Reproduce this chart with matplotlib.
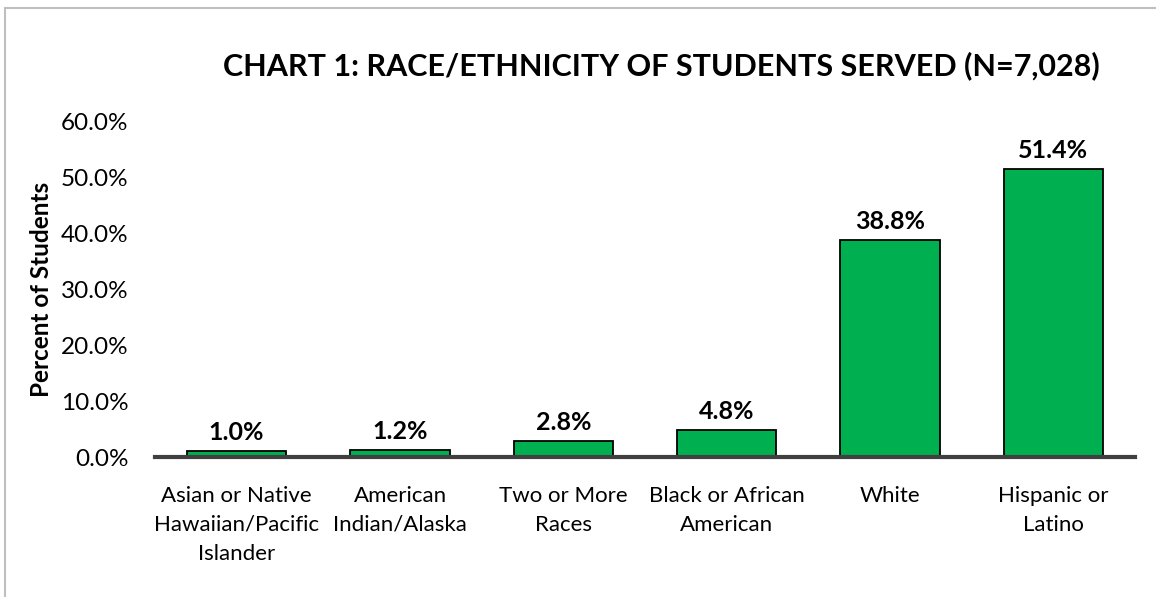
import matplotlib
matplotlib.use("Agg")
from matplotlib import pyplot as plt
from matplotlib.patches import Rectangle
import numpy as np

categories = ["Asian or Native\nHawaiian/Pacific\nIslander", "American\nIndian/Alaska",
              "Two or More\nRaces", "Black or African\nAmerican", "White", "Hispanic or\nLatino"]
values = [1.0, 1.2, 2.8, 4.8, 38.8, 51.4]
yticks = [0, 10, 20, 30, 40, 50, 60]

plt.rcParams['font.family'] = ['Lato', 'DejaVu Sans']

W, H = 1156, 597
fig = plt.figure(figsize=(W / 100, H / 100), dpi=100)

# chart frame (cut off on the right and bottom in the original)
fig.patches.append(Rectangle((5 / W, -0.1), 1.2, 1 - 8 / H + 0.1, transform=fig.transFigure,
                             fill=False, edgecolor="#bfbfbf", linewidth=1.5))

ax = fig.add_axes([155 / W, 1 - 457 / H, (1135 - 155) / W, (457 - 121) / H])
x = np.arange(len(categories))
ax.bar(x, values, width=0.61, color="#00B050", edgecolor="black", linewidth=1.3, zorder=2)
ax.set_xlim(-0.5, len(categories) - 0.5)
ax.set_ylim(0, 60)
ax.set_yticks(yticks)
ax.set_yticklabels([f"{v:.1f}%" for v in yticks], fontsize=17.5)
ax.set_xticks(x)
ax.set_xticklabels(categories, fontsize=16, linespacing=1.55, va="top")
ax.tick_params(axis="y", length=0, pad=19)
ax.tick_params(axis="x", length=0, pad=21)
for s in ["top", "right", "left"]:
    ax.spines[s].set_visible(False)
ax.spines["bottom"].set_color("#404040")
ax.spines["bottom"].set_linewidth(3)
ax.spines["bottom"].set_zorder(3)

for xi, v in zip(x, values):
    ax.annotate(f"{v:.1f}%", (xi, v), xytext=(0, 5), textcoords="offset points",
                ha="center", va="bottom", fontsize=18, fontweight="bold")

ax.set_ylabel("Percent of Students", fontsize=17.5, fontweight="bold", labelpad=6)

fig.text(661 / W, 1 - 66 / H, "CHART 1: RACE/ETHNICITY OF STUDENTS SERVED (N=7,028)",
         ha="center", va="center", fontsize=22, fontweight="bold")

fig.savefig("out.png", dpi=100, facecolor="white")
